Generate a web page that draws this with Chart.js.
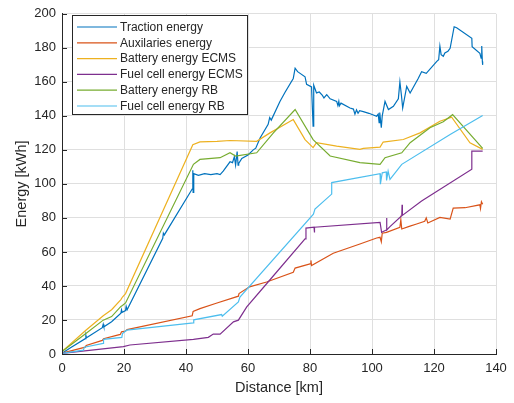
<!DOCTYPE html>
<html>
<head>
<meta charset="utf-8">
<script src="https://cdn.jsdelivr.net/npm/chart.js@4/dist/chart.umd.min.js"></script>
<style>
  html, body { margin: 0; padding: 0; background: #fff; }
  #wrap { width: 514px; height: 403px; }
</style>
</head>
<body>
<div id="wrap"><canvas id="energyChart" width="514" height="403"></canvas></div>
<script>
const seriesLabels = ['Traction energy', 'Auxilaries energy', 'Battery energy ECMS', 'Fuel cell energy ECMS', 'Battery energy RB', 'Fuel cell energy RB'];
const seriesColors = ['#0072BD', '#D95319', '#EDB120', '#7E2F8E', '#77AC30', '#4DBEEE'];
const xTicks = [0, 20, 40, 60, 80, 100, 120, 140];
const yTicks = [0, 20, 40, 60, 80, 100, 120, 140, 160, 180, 200];

// [distance km, energy kWh]
const traction = [[0,0.5],[3,4],[7.5,9],[7.7,11],[7.9,9.5],[13,15.5],[13.3,17.5],[13.5,16],[16,19],[19,24],[19.2,26],[19.4,24.5],[20.5,25.5],[20.7,28],[21,26],[32.5,68],[32.7,71],[33,70],[42,97],[42.2,108],[42.3,95],[42.5,106],[44,105],[46,106],[48,105.5],[50,106],[51,105.5],[52,107.5],[54.2,113],[55,112.5],[55.6,116],[56,111],[56.5,119],[56.8,111],[57,112],[58,115],[60,117],[61.7,120],[62.5,121],[63.9,127],[66.5,135],[67,139],[67.5,137.5],[70.3,148.5],[72,154],[74.6,162],[75.2,168],[76,166],[78.4,163],[78.9,158.5],[80.5,157],[81,134],[81.2,158],[82.1,153.5],[83,154],[84,152],[84.5,150.5],[85.4,152.5],[86.5,150],[88.6,148.5],[89,146],[89.3,148.5],[89.5,146],[90,147.5],[92.9,144.6],[94,144],[94.5,141],[95,143.5],[95.5,141.5],[96,143],[97.2,142.5],[99,141.5],[101.5,139.8],[102,141],[102.3,136],[102.5,142],[103,133],[103.3,140],[104.2,148.5],[105.3,143.7],[106.9,145.6],[108.5,150],[109,160],[109.5,152],[109.9,144.6],[111.2,157.3],[112.3,153.4],[114.9,162],[116,166],[117.5,165],[120.9,172],[121.5,173],[121.9,181],[122.3,176],[123,175],[123.5,177],[124.5,178],[125.2,179.7],[126.5,192.4],[127.3,191.8],[132.2,185.6],[132.3,180.7],[134.8,176.8],[135.2,174],[135.4,181],[135.6,172],[135.7,170]];
const auxiliaries = [[0,0.5],[7.5,4],[7.8,5],[13,8],[13.4,9],[18.8,11.5],[19.2,13],[20.5,13.5],[21,14.3],[42,22.5],[42.3,25],[44.5,26.7],[50,30],[56.9,34],[57.1,35.5],[60.5,39.5],[66,42.3],[74.6,48],[75.2,50.5],[80,53],[80.3,55],[80.5,52],[87.5,59.2],[96.1,64.7],[101.5,68.2],[102.6,68.6],[103,66],[103.3,71],[104.7,71.5],[109,74.5],[109.3,79],[109.6,73.5],[112,75],[114.4,76.4],[117,78],[117.5,80],[118,77],[121.9,80.3],[125.2,79.3],[126.2,85.8],[130,86],[134.8,87.7],[135,85.5],[135.3,89.5],[135.7,88]];
const batteryEcms = [[0,1.5],[7.7,14],[13.3,22.5],[16,26],[19,32],[19.5,33.5],[20.5,35.5],[42.2,123],[44.5,124.7],[50,125],[54.2,125.5],[62.8,125],[67.1,130],[74.6,137.8],[78.4,126],[81,121.3],[82.1,124.2],[88.6,122.2],[96.1,120.3],[97.2,120.9],[102.6,121.6],[103.6,124.6],[110.1,126.1],[115.5,130],[121.9,136.8],[125.7,139.2],[131.6,124.2],[135.7,120.3]];
const fuelCellEcms = [[0,0.4],[19.8,4.3],[21.9,5.3],[42.4,8.6],[47.2,9.8],[48.8,11.7],[51,11.7],[55.3,18.9],[56.9,19.9],[59.6,27.7],[66,41.3],[78.4,67.7],[78.7,74],[81.3,74.5],[81.4,71.5],[81.5,74.5],[102.6,77.4],[103.1,71.5],[104.6,72.9],[104.7,80],[104.8,72.9],[105.8,74.9],[109.6,81.3],[109.7,87.7],[109.8,81.5],[116,90],[132.2,108.6],[132.2,119.3],[135.7,119.3]];
const batteryRb = [[0,1.5],[7.7,12],[13.3,19.9],[16,22],[19,28],[19.5,28.5],[20.5,30],[42.4,111.5],[44.5,114.4],[51,115.4],[54.2,118.3],[56,116.4],[62.8,118.3],[68.2,130],[75.2,143.7],[81,126],[86.5,116.4],[96.1,112.5],[102.6,111.5],[104.2,115.4],[109.6,118.3],[112.3,124.2],[118.7,133],[123,136.5],[126,140.7],[135.7,120.9]];
const fuelCellRb = [[0,0.4],[6.9,2.3],[7.2,4],[13.3,6.2],[13.4,8.6],[19.3,9.8],[19.5,12],[20.9,14],[42.4,18.3],[42.5,20.1],[51.5,23.2],[51.7,22.2],[56.9,30.6],[57.4,33.5],[81.1,82.2],[81.6,85.2],[87,94],[87,100.8],[102.6,106],[102.7,99.8],[103.3,106.5],[104.6,107],[104.7,102],[105.2,107.5],[105.8,102.7],[109.6,111.5],[125.2,129],[135.7,140.2]];

const seriesData = [traction, auxiliaries, batteryEcms, fuelCellEcms, batteryRb, fuelCellRb];
const FONT = "'Liberation Sans', Arial, Helvetica, sans-serif";
const INK = '#262626';

// MATLAB-like boxed legend in the upper left of the axes
const boxLegend = {
  id: 'boxLegend',
  afterDraw(chart) {
    const { ctx } = chart;
    const x0 = 72, y0 = 15, w = 175, h = 99;
    ctx.save();
    ctx.fillStyle = '#fff';
    ctx.fillRect(x0, y0, w, h);
    ctx.strokeStyle = INK;
    ctx.lineWidth = 1;
    ctx.strokeRect(x0 + 0.5, y0 + 0.5, w, h);
    ctx.font = '12px ' + FONT;
    ctx.textBaseline = 'middle';
    chart.data.datasets.forEach((ds, i) => {
      const y = 27 + i * 15.8;
      ctx.strokeStyle = ds.borderColor;
      ctx.lineWidth = 1.2;
      ctx.beginPath();
      ctx.moveTo(77, y);
      ctx.lineTo(117, y);
      ctx.stroke();
      ctx.fillStyle = INK;
      ctx.fillText(ds.label, 120, y + 0.5);
    });
    ctx.restore();
  },
};

// ticks drawn inward, as in MATLAB
const innerTicks = {
  id: 'innerTicks',
  afterDatasetsDraw(chart) {
    const { ctx, chartArea, scales } = chart;
    ctx.save();
    ctx.strokeStyle = INK;
    ctx.lineWidth = 1;
    ctx.beginPath();
    xTicks.forEach((v) => {
      const px = Math.round(scales.x.getPixelForValue(v)) + 0.5;
      ctx.moveTo(px, chartArea.bottom);
      ctx.lineTo(px, chartArea.bottom - 5);
    });
    yTicks.forEach((v) => {
      const py = Math.round(scales.y.getPixelForValue(v)) + 0.5;
      ctx.moveTo(chartArea.left, py);
      ctx.lineTo(chartArea.left + 5, py);
    });
    ctx.stroke();
    ctx.restore();
  },
};

const ctx = document.getElementById('energyChart');
new Chart(ctx, {
  type: 'scatter',
  data: {
    datasets: seriesData.map((pts, i) => ({
      label: seriesLabels[i],
      data: pts.map(([x, y]) => ({ x, y })),
      borderColor: seriesColors[i],
      backgroundColor: seriesColors[i],
      borderWidth: 1.2,
      showLine: true,
      pointRadius: 0,
      tension: 0,
      order: seriesData.length - i,
    })),
  },
  options: {
    responsive: false,
    animation: false,
    events: [],
    layout: { padding: { top: 12, right: 18, left: 0, bottom: 0 } },
    plugins: { legend: { display: false }, tooltip: { enabled: false } },
    scales: {
      x: {
        type: 'linear',
        min: 0,
        max: 140,
        afterBuildTicks: (scale) => { scale.ticks = xTicks.map((v) => ({ value: v })); },
        afterFit: (scale) => { scale.height = 49; },
        grid: { color: '#dfdfdf', drawTicks: false },
        border: { color: INK, width: 1 },
        ticks: { color: INK, font: { family: FONT, size: 13 }, padding: 7, maxRotation: 0 },
        title: { display: true, text: 'Distance [km]', color: INK, font: { family: FONT, size: 14.5 }, padding: { top: 0, bottom: 6 } },
      },
      y: {
        type: 'linear',
        min: 0,
        max: 200,
        afterBuildTicks: (scale) => { scale.ticks = yTicks.map((v) => ({ value: v })); },
        afterFit: (scale) => { scale.width = 62; },
        grid: { color: '#dfdfdf', drawTicks: false },
        border: { color: INK, width: 1 },
        ticks: { color: INK, font: { family: FONT, size: 13 }, padding: 6 },
        title: { display: true, text: 'Energy [kWh]', color: INK, font: { family: FONT, size: 14.5 }, padding: { top: 13, bottom: 0 } },
      },
    },
  },
  plugins: [innerTicks, boxLegend],
});
</script>
</body>
</html>
